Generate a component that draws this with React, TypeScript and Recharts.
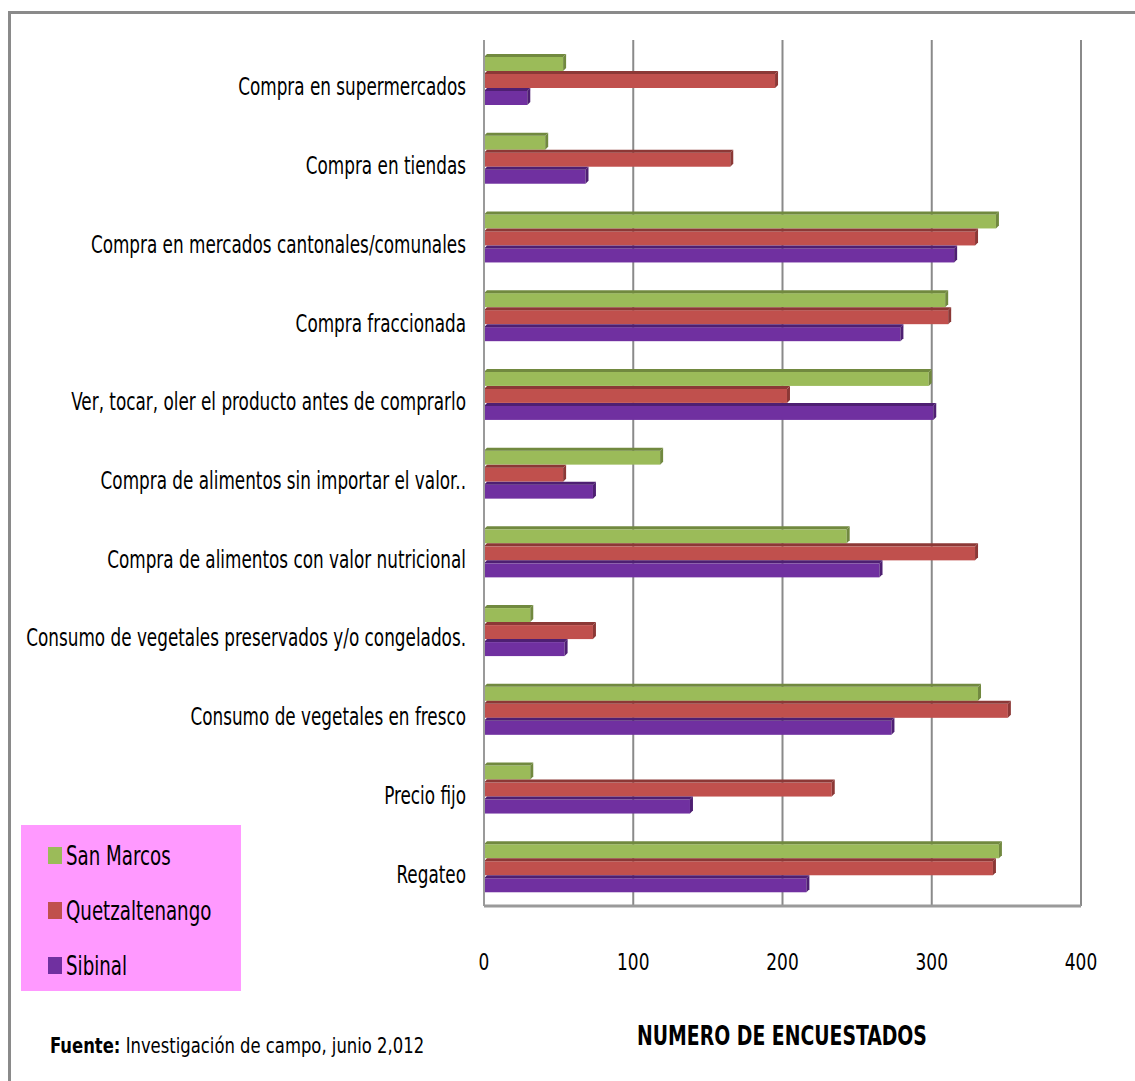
import { BarChart, Bar, XAxis, YAxis, CartesianGrid } from "recharts";

const categories = [
  "Compra en supermercados",
  "Compra en tiendas",
  "Compra en mercados cantonales/comunales",
  "Compra fraccionada",
  "Ver, tocar, oler el producto antes de comprarlo",
  "Compra de alimentos sin importar el valor..",
  "Compra de alimentos con valor nutricional",
  "Consumo de vegetales preservados y/o congelados.",
  "Consumo de vegetales en fresco",
  "Precio fijo",
  "Regateo",
];
const sanMarcos = [53, 41, 343, 309, 298, 118, 243, 31, 331, 31, 345];
const quetzaltenango = [195, 165, 329, 311, 203, 53, 329, 73, 351, 233, 341];
const sibinal = [29, 68, 315, 279, 301, 73, 265, 54, 273, 138, 216];
const xTicks = [0, 100, 200, 300, 400];

const SERIES = [
  { key: "sanMarcos", name: "San Marcos", color: "#9BBB59", dark: "#71893F" },
  { key: "quetzaltenango", name: "Quetzaltenango", color: "#C0504D", dark: "#8C3836" },
  { key: "sibinal", name: "Sibinal", color: "#7030A0", dark: "#4E1F72" },
];

const data = categories.map((c, i) => ({
  category: c,
  sanMarcos: sanMarcos[i],
  quetzaltenango: quetzaltenango[i],
  sibinal: sibinal[i],
}));

const FONT = "'Liberation Sans Narrow', 'DejaVu Sans Condensed', sans-serif";

function Bar3D(props: any) {
  const { x, y, width, height, fill, dark } = props;
  if (!width || width <= 0) return null;
  const d = 3;
  return (
    <g>
      <rect x={x} y={y + d} width={width} height={height - d} fill={fill} />
      <polygon
        points={`${x},${y + d} ${x + d},${y} ${x + width + d},${y} ${x + width},${y + d}`}
        fill={dark}
      />
      <polygon
        points={`${x + width},${y + d} ${x + width + d},${y} ${x + width + d},${y + height - d} ${x + width},${y + height}`}
        fill={dark}
      />
    </g>
  );
}

function CategoryTick({ x, y, payload }: any) {
  return (
    <g transform={`translate(${x},${y})`}>
      <text
        transform="scale(0.78,1)"
        textAnchor="end"
        dy={16}
        fontSize={24}
        fontFamily={FONT}
        fill="#000"
      >
        {payload.value}
      </text>
    </g>
  );
}

function ValueTick({ x, y, payload }: any) {
  return (
    <g transform={`translate(${x},${y})`}>
      <text transform="scale(0.82,1)" dy={20} textAnchor="middle" fontSize={23} fontFamily={FONT} fill="#000">
        {payload.value}
      </text>
    </g>
  );
}

function LegendBox() {
  return (
    <div style={{ position: "absolute", left: 21, top: 825, background: "#FF99FF", width: 220, height: 166, boxSizing: "border-box", paddingTop: 3 }}>
      {SERIES.map((s) => (
        <div key={s.key} style={{ display: "flex", alignItems: "center", height: 55, paddingLeft: 27 }}>
          <span style={{ flexShrink: 0, width: 14, height: 17, background: s.color, display: "inline-block", marginRight: 4 }} />
          <span style={{ fontFamily: FONT, fontSize: 27, transform: "scaleX(0.75)", transformOrigin: "left", color: "#000", whiteSpace: "nowrap" }}>
            {s.name}
          </span>
        </div>
      ))}
    </div>
  );
}

export default function App() {
  return (
    <div style={{ position: "absolute", left: 0, top: 0, width: 1135, height: 1081, background: "#fff", overflow: "hidden" }}>
      <div style={{ position: "absolute", left: 8, top: 11, right: 0, bottom: 0, borderTop: "3px solid #8a8a8a", borderLeft: "3px solid #8a8a8a" }} />
      <BarChart
        width={1135}
        height={1081}
        data={data}
        layout="vertical"
        margin={{ top: 40, right: 54, left: 0, bottom: 0 }}
        barSize={17}
        barGap={0}
        style={{ position: "absolute", left: 0, top: 0 }}
      >
        <CartesianGrid vertical horizontal={false} stroke="#8a8a8a" strokeWidth={2} />
        <XAxis
          type="number"
          domain={[0, 400]}
          ticks={xTicks}
          tick={<ValueTick />}
          tickLine={false}
          axisLine={{ stroke: "#9a9a9a", strokeWidth: 3 }}
          tickMargin={38}
          height={175}
        />
        <YAxis
          type="category"
          dataKey="category"
          width={484}
          tick={<CategoryTick />}
          tickLine={false}
          tickSize={6}
          tickMargin={12}
          axisLine={{ stroke: "#9a9a9a", strokeWidth: 2 }}
          interval={0}
        />
        {SERIES.map((s) => (
          <Bar
            key={s.key}
            dataKey={s.key}
            name={s.name}
            fill={s.color}
            isAnimationActive={false}
            shape={(p: any) => <Bar3D {...p} fill={s.color} dark={s.dark} />}
          />
        ))}
      </BarChart>
      <LegendBox />
      <div style={{ position: "absolute", left: 0, width: 1135, top: 1020, display: "flex", justifyContent: "center", pointerEvents: "none" }}>
        <div style={{ marginLeft: 430, fontFamily: FONT, fontWeight: "bold", fontSize: 27, transform: "scaleX(0.775)", color: "#000", whiteSpace: "nowrap" }}>
          NUMERO DE ENCUESTADOS
        </div>
      </div>
      <div style={{ position: "absolute", left: 50, top: 1033, fontFamily: FONT, fontSize: 22, color: "#000", transform: "scaleX(0.83)", transformOrigin: "left", whiteSpace: "nowrap" }}>
        <b>Fuente:</b> Investigación de campo, junio 2,012
      </div>
    </div>
  );
}
